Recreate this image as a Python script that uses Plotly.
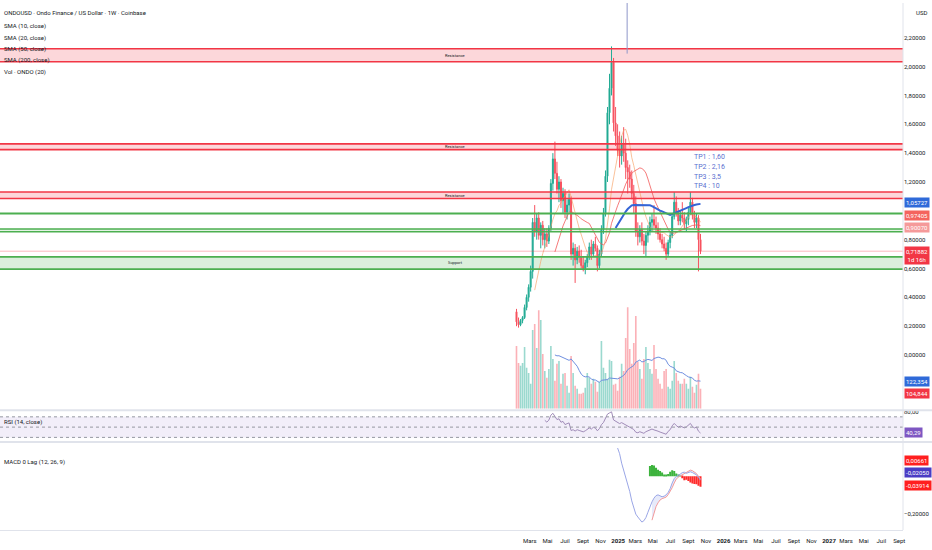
import pandas as pd
import plotly.graph_objects as go

# ---------------- data (weekly ONDOUSD) ----------------
start_week = "2024-01-15"
n_weeks = 92
opens = [0.30,0.23,0.21,0.24,0.26,0.33,0.40,0.47,0.58,0.92,
         0.86,0.95,0.83,0.90,0.80,0.84,0.79,0.88,1.19,1.36,
         1.26,1.15,1.20,1.07,1.12,0.99,1.04,1.08,0.70,0.74,
         0.66,0.72,0.68,0.62,0.60,0.64,0.68,0.75,0.70,0.77,
         0.74,0.62,0.70,0.87,0.98,1.24,1.68,1.85,2.03,1.61,
         1.52,1.42,1.38,1.46,1.40,1.30,1.27,1.22,1.12,1.05,
         0.86,0.82,0.87,0.79,0.76,0.83,0.86,0.92,0.94,0.90,
         0.88,0.84,0.80,0.77,0.74,0.70,0.78,0.83,0.96,1.06,
         0.99,0.93,0.97,0.95,0.91,0.94,0.99,1.06,0.97,0.92,
         0.95,0.80]
highs = [0.32,0.26,0.25,0.27,0.35,0.42,0.49,0.62,0.95,1.04,
         0.98,0.99,0.92,0.93,0.88,0.88,0.90,1.22,1.40,1.48,
         1.34,1.24,1.22,1.16,1.15,1.08,1.12,1.10,0.78,0.77,
         0.75,0.76,0.73,0.68,0.66,0.70,0.78,0.80,0.79,0.82,
         0.76,0.73,0.90,1.02,1.28,1.72,1.95,2.14,2.06,1.72,
         1.60,1.55,1.52,1.58,1.50,1.35,1.32,1.28,1.18,1.10,
         0.92,0.90,0.92,0.84,0.86,0.90,0.96,0.98,1.04,0.96,
         0.92,0.88,0.84,0.82,0.78,0.80,0.86,0.98,1.13,1.10,
         1.02,1.00,1.06,0.99,0.96,1.02,1.13,1.09,1.00,0.98,
         0.97,0.84]
lows = [0.20,0.19,0.20,0.22,0.25,0.31,0.37,0.44,0.53,0.82,
        0.80,0.80,0.74,0.76,0.74,0.75,0.77,0.86,1.14,1.22,
        1.12,1.06,1.02,0.98,0.95,0.94,0.99,0.66,0.62,0.50,
        0.63,0.64,0.60,0.58,0.56,0.61,0.66,0.66,0.68,0.72,
        0.58,0.60,0.68,0.84,0.96,1.20,1.60,1.80,1.55,1.45,
        1.38,1.30,1.32,1.34,1.22,1.12,1.16,1.08,0.98,0.82,
        0.76,0.78,0.76,0.70,0.68,0.78,0.83,0.86,0.88,0.84,
        0.80,0.78,0.74,0.72,0.66,0.68,0.74,0.81,0.94,0.96,
        0.90,0.90,0.92,0.87,0.86,0.90,0.97,0.94,0.88,0.88,
        0.58,0.70]
closes = [0.23,0.21,0.24,0.26,0.33,0.40,0.47,0.58,0.92,0.86,
          0.95,0.83,0.90,0.80,0.84,0.79,0.88,1.19,1.36,1.26,
          1.15,1.20,1.07,1.12,0.99,1.04,1.08,0.70,0.74,0.66,
          0.72,0.68,0.62,0.60,0.64,0.68,0.75,0.70,0.77,0.74,
          0.62,0.70,0.87,0.98,1.24,1.68,1.85,2.03,1.61,1.52,
          1.42,1.38,1.46,1.40,1.30,1.27,1.22,1.12,1.05,0.86,
          0.82,0.87,0.79,0.76,0.83,0.86,0.92,0.94,0.90,0.88,
          0.84,0.80,0.77,0.74,0.70,0.78,0.83,0.96,1.06,0.99,
          0.93,0.97,0.95,0.91,0.94,0.99,1.06,0.97,0.92,0.95,
          0.80,0.72]
volumes = [284,207,194,207,279,185,162,113,356,383,
           275,446,401,248,171,140,180,284,225,126,
           203,216,113,158,162,104,72,239,162,104,
           90,68,68,72,95,162,140,113,135,122,
           77,122,306,185,162,135,221,216,108,113,
           81,144,203,171,320,459,270,203,297,419,
           212,180,135,225,279,207,180,158,288,180,
           135,113,90,171,180,99,90,126,216,162,
           126,113,113,135,113,90,144,99,72,108,
           158,90]

macd_start = 50
macd_line = [0.15,0.12,0.07,0.035,0.0,-0.04,-0.08,-0.13,-0.17,-0.20,
             -0.215,-0.23,-0.242,-0.235,-0.218,-0.19,-0.16,-0.135,-0.115,-0.102,
             -0.098,-0.105,-0.108,-0.105,-0.098,-0.085,-0.065,-0.035,-0.012,0.0,
             0.005,0.012,0.02,0.022,0.016,0.02,0.024,0.02,0.014,0.008,
             -0.005,-0.02]
signal_start = 67
signal_line = [-0.232,-0.19,-0.16,-0.14,-0.125,-0.118,-0.113,-0.11,-0.097,-0.08,
               -0.06,-0.035,-0.015,-0.004,0.002,0.008,0.012,0.018,0.028,0.033,
               0.03,0.024,0.015,0.0,-0.012]
hist_start = 66
hist_vals = [0.055,0.06,0.058,0.045,0.035,0.028,0.02,0.01,0.005,0.012,
             0.025,0.032,0.028,0.015,0.008,0.002,-0.01,-0.02,-0.018,-0.025,
             -0.032,-0.038,-0.04,-0.042,-0.05,-0.055]

resistance_zones = [(2.034, 2.124), (1.424, 1.464), (1.085, 1.131)]
green_lines = [0.981]
green_band = (0.855, 0.874)
support_zone = (0.596, 0.681)
tp_texts = ["TP1 : 1,60", "TP2 : 2,16", "TP3 : 3,5", "TP4 : 10"]
tp_levels = [1.372, 1.303, 1.234, 1.172]
price_ticks = [0, 0.2, 0.4, 0.6, 0.8, 1.2, 1.4, 1.6, 1.8, 2.0, 2.2]

month_ticks = ["2024-03-01","2024-05-01","2024-07-01","2024-09-01","2024-11-01",
               "2025-01-01","2025-03-01","2025-05-01","2025-07-01","2025-09-01","2025-11-01",
               "2026-01-01","2026-03-01","2026-05-01","2026-07-01","2026-09-01","2026-11-01",
               "2027-01-01","2027-03-01","2027-05-01","2027-07-01","2027-09-01"]
month_text = ["Mars","Mai","Juil","Sept","Nov","<b>2025</b>","Mars","Mai","Juil","Sept","Nov",
              "<b>2026</b>","Mars","Mai","Juil","Sept","Nov","<b>2027</b>","Mars","Mai","Juil","Sept"]

# ---------------- derived ----------------
dates = pd.date_range(start_week, periods=n_weeks, freq="7D")
c = pd.Series(closes, index=dates)
sma10 = c.rolling(10).mean()
sma20 = c.rolling(20).mean()
sma50 = c.rolling(50).mean()
v = pd.Series(volumes, index=dates)
vma = v.rolling(20).mean()
d = c.diff()
au = d.clip(lower=0).ewm(alpha=1/14, adjust=False, min_periods=14).mean()
ad = (-d.clip(upper=0)).ewm(alpha=1/14, adjust=False, min_periods=14).mean()
rsi = 100 - 100 / (1 + au / ad)

UP = "#22ab94"
DN = "#f7525f"
vol_colors = ["rgba(34,171,148,0.45)" if cl >= op else "rgba(247,82,95,0.45)"
              for op, cl in zip(opens, closes)]

FONT = "Roboto, Liberation Sans, sans-serif"
TXT = "#131722"
WEEK = 7 * 24 * 3600 * 1000

H_PLOT = 530.0
def py(px):
    return (H_PLOT - px) / H_PLOT

fig = go.Figure()

# volume (overlay axis in main pane)
fig.add_trace(go.Bar(x=dates, y=volumes, marker=dict(color=vol_colors, line=dict(width=0)),
                     width=WEEK * 0.8, xaxis="x", yaxis="y2"))
fig.add_trace(go.Scatter(x=dates, y=vma, mode="lines", line=dict(color="#6f8fe0", width=1),
                         xaxis="x", yaxis="y2"))

# candles
fig.add_trace(go.Candlestick(x=dates, open=opens, high=highs, low=lows, close=closes,
                             increasing=dict(line=dict(color=UP, width=1), fillcolor=UP),
                             decreasing=dict(line=dict(color=DN, width=1), fillcolor=DN),
                             xaxis="x", yaxis="y"))
fig.add_trace(go.Scatter(x=dates, y=sma10, mode="lines",
                         line=dict(color="rgba(247,160,100,0.65)", width=1), xaxis="x", yaxis="y"))
fig.add_trace(go.Scatter(x=dates, y=sma20, mode="lines",
                         line=dict(color="rgba(242,90,90,0.8)", width=1), xaxis="x", yaxis="y"))
fig.add_trace(go.Scatter(x=dates, y=sma50, mode="lines",
                         line=dict(color="#3565d6", width=2), xaxis="x", yaxis="y"))

# RSI
fig.add_trace(go.Scatter(x=dates, y=rsi, mode="lines", line=dict(color="#a08cb8", width=1),
                         xaxis="x", yaxis="y3"))

# MACD
mdates = dates[macd_start:macd_start + len(macd_line)]
sdates = dates[signal_start:signal_start + len(signal_line)]
hdates = dates[hist_start:hist_start + len(hist_vals)]
hist_colors = ["#3db33d" if h >= 0 else "#ff2a2a" for h in hist_vals]
fig.add_trace(go.Bar(x=hdates, y=hist_vals, marker=dict(color=hist_colors, line=dict(width=0)),
                     width=WEEK, xaxis="x", yaxis="y4"))
fig.add_trace(go.Scatter(x=sdates, y=signal_line, mode="lines",
                         line=dict(color="#f39a9a", width=1), xaxis="x", yaxis="y4"))
fig.add_trace(go.Scatter(x=sdates, y=list(macd_line[signal_start - macd_start:]), mode="lines",
                         line=dict(color="rgba(0,0,0,0)", width=0), fill="tonexty",
                         fillcolor="rgba(120,140,230,0.18)", xaxis="x", yaxis="y4"))
fig.add_trace(go.Scatter(x=mdates, y=macd_line, mode="lines",
                         line=dict(color="#9aa6e6", width=1), xaxis="x", yaxis="y4"))

shapes = []
# zones
for lo, hi in resistance_zones:
    shapes.append(dict(type="rect", xref="paper", yref="y", x0=0, x1=1, y0=lo, y1=hi,
                       fillcolor="rgba(242,54,69,0.2)", line=dict(width=0), layer="below"))
    for yv in (lo, hi):
        shapes.append(dict(type="line", xref="paper", yref="y", x0=0, x1=1, y0=yv, y1=yv,
                           line=dict(color="#f23645", width=1.6)))
for yv in green_lines:
    shapes.append(dict(type="line", xref="paper", yref="y", x0=0, x1=1, y0=yv, y1=yv,
                       line=dict(color="#4caf50", width=2)))
shapes.append(dict(type="rect", xref="paper", yref="y", x0=0, x1=1, y0=green_band[0], y1=green_band[1],
                   fillcolor="rgba(76,175,80,0.15)", line=dict(width=0), layer="below"))
for yv in green_band:
    shapes.append(dict(type="line", xref="paper", yref="y", x0=0, x1=1, y0=yv, y1=yv,
                       line=dict(color="#4caf50", width=1.6)))
shapes.append(dict(type="rect", xref="paper", yref="y", x0=0, x1=1, y0=support_zone[0], y1=support_zone[1],
                   fillcolor="rgba(76,175,80,0.2)", line=dict(width=0), layer="below"))
for yv in support_zone:
    shapes.append(dict(type="line", xref="paper", yref="y", x0=0, x1=1, y0=yv, y1=yv,
                       line=dict(color="#4caf50", width=1.6)))
# last price line
shapes.append(dict(type="line", xref="paper", yref="y", x0=0, x1=1, y0=closes[-1], y1=closes[-1],
                   line=dict(color="rgba(242,54,69,0.35)", width=1)))
# vertical drawing line
shapes.append(dict(type="line", xref="x", yref="y", x0="2025-02-01", x1="2025-02-01", y0=2.09, y1=2.45,
                   line=dict(color="#8f97c9", width=1)))
# RSI band
shapes.append(dict(type="rect", xref="paper", yref="y3", x0=0, x1=1, y0=30, y1=70,
                   fillcolor="rgba(126,87,194,0.1)", line=dict(width=0), layer="below"))
for yv in (70, 50, 30):
    shapes.append(dict(type="line", xref="paper", yref="y3", x0=0, x1=1, y0=yv, y1=yv,
                       line=dict(color="#9598a1", width=1, dash="dot")))
# pane separators and right axis border
for pyv in (409.5, 441.5):
    shapes.append(dict(type="line", xref="paper", yref="paper", x0=0, x1=1.04, y0=py(pyv), y1=py(pyv),
                       line=dict(color="#e0e3eb", width=2)))
shapes.append(dict(type="line", xref="paper", yref="paper", x0=1, x1=1, y0=0, y1=1,
                   line=dict(color="#e0e3eb", width=1)))

ann = []
def text(x, y, s, size=6, color=TXT, xanchor="left", xref="paper", yref="paper", **kw):
    ann.append(dict(x=x, y=y, xref=xref, yref=yref, text=s, showarrow=False, xanchor=xanchor,
                    yanchor="middle", font=dict(family=FONT, size=size, color=color), **kw))

legend_lines = [("ONDOUSD · Ondo Finance / US Dollar · 1W · Coinbase", 10),
                ("SMA (10, close)", 23), ("SMA (20, close)", 35), ("SMA (50, close)", 46),
                ("SMA (200, close)", 57), ("Vol · ONDO (20)", 69)]
for s, ypx in legend_lines:
    text(0.002, py(ypx), s)
text(0.002, py(421), "RSI (14, close)")
text(0.002, py(462), "MACD 0 Lag (12, 26, 9)")
text(1.012, py(10), "USD")

for lo, hi in resistance_zones:
    text(0.504, (lo + hi) / 2, "Resistance", size=4, xanchor="center", yref="y")
text(0.504, (support_zone[0] + support_zone[1]) / 2, "Support", size=4, xanchor="center", yref="y")
for s, yv in zip(tp_texts, tp_levels):
    text("2025-09-14", yv, s, size=7, color="#5b6fcf", xref="x", yref="y")

def box(ypx, s, bg, fg="white"):
    ann.append(dict(x=1.001, y=py(ypx), xref="paper", yref="paper", text=s, showarrow=False,
                    xanchor="left", yanchor="middle", bgcolor=bg, borderpad=1,
                    font=dict(family=FONT, size=6, color=fg)))

box(201, "1,05727", "#2f6ad9")
box(213.5, "0,97405", "#f4645e")
box(226, "0,90070", "#f59a9a")
box(254, "0,71882<br>1d 16h", "#f23645")
box(380.5, "122,354", "#2f6ad9")
box(393, "104,844", "#f23645")
box(432, "40,29", "#7e57c2")
box(460, "0,00661", "#ff1f1f")
box(472.5, "-0,02050", "#4a3cc4")
box(485, "-0,03914", "#ff1f1f")

axfont = dict(family=FONT, size=6, color=TXT)
fig.update_layout(
    width=932, height=550,
    margin=dict(l=0, r=29, t=0, b=20),
    paper_bgcolor="white", plot_bgcolor="white",
    showlegend=False, separators=", ", bargap=0.1,
    xaxis=dict(type="date", range=["2019-02-22", "2027-09-14"], anchor="y4",
               tickvals=month_ticks, ticktext=month_text, tickfont=axfont,
               showgrid=False, zeroline=False, showline=True, linecolor="#e0e3eb",
               ticks="", ticklabelstandoff=5, rangeslider=dict(visible=False)),
    yaxis=dict(domain=[py(408), 1], range=[-0.372, 2.441], side="right", anchor="x",
               tickvals=price_ticks,
               tickformat=".5f", tickfont=axfont, showgrid=False, zeroline=False, ticks=""),
    yaxis2=dict(domain=[py(408), 1], range=[0, 1836], overlaying="y", anchor="x",
                showticklabels=False, showgrid=False, zeroline=False),
    yaxis3=dict(domain=[py(441), py(410)], range=[22, 82], side="right", anchor="x",
                tickvals=[80], tickformat=".2f", tickfont=axfont, showgrid=False, zeroline=False),
    yaxis4=dict(domain=[0, py(443)], range=[-0.284, 0.174], side="right", anchor="x",
                tickvals=[-0.2], tickformat=".5f", tickfont=axfont, showgrid=False, zeroline=False),
    shapes=shapes, annotations=ann,
)

fig.write_html("out.html", config={"displayModeBar": False},
               post_script="document.body.style.margin='0px';")
